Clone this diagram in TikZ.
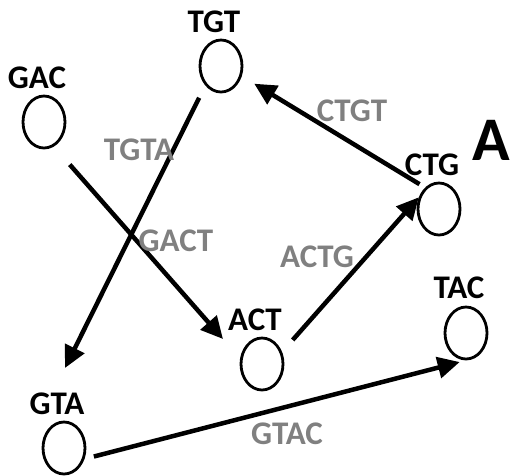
\documentclass[tikz,border=0pt]{standalone}
\usepackage{fontspec}
\setmainfont{Carlito}
\usetikzlibrary{arrows.meta}
\usetikzlibrary{positioning}
\usetikzlibrary{shapes.geometric}
\definecolor{lblgray}{RGB}{128,128,128}

\begin{document}
\begin{tikzpicture}[x=1pt, y=-1pt,                                            % pixel units, y runs down
	                    kmer/.style={draw, ellipse, line width=2.8pt, inner sep=0pt,
	                                 minimum width=42pt, minimum height=52pt},  % the k-mer circles
	                    kname/.style={inner sep=0pt, font=\fontsize{33}{38}\selectfont\bfseries},
	                    klbl/.style={kname, text=lblgray},                     % edge words
	                    arr/.style={-{Triangle[length=22pt,width=21pt]}, line width=4.5pt}]
	\useasboundingbox (0,0) rectangle (510,475);
	\node[kmer] (TGT) at (221,66) {};
	\node[kmer] (GAC) at (44,122) {};
	\node[kmer] (CTG) at (439,209) {};
	\node[kmer] (ACT) at (262,364) {};
	\node[kmer] (TAC) at (466,333) {};
	\node[kmer] (GTA) at (64,448) {};
	\node[kname] (tgt-name) [above=6pt of TGT, xshift=-7pt] {TGT};
	\node[kname] (gac-name) [above=6pt of GAC, xshift=-7pt] {GAC};
	\node[kname] (ctg-name) [above=6pt of CTG, xshift=-7pt] {CTG};
	\node[kname] (act-name) [above=6pt of ACT, xshift=-7pt] {ACT};
	\node[kname] (tac-name) [above=7pt of TAC, xshift=-7pt] {TAC};
	\node[kname] (gta-name) [above=6pt of GTA, xshift=-7pt] {GTA};
	\node[inner sep=0pt, font=\fontsize{62}{70}\selectfont\bfseries] (panel) at (491,140) {A};
	\coordinate (gta-in) at (65,368);
	\coordinate (act-in) at (223,339);
	\path[arr]
		(TGT.231) edge [shorten <=13.7pt] (gta-in)
		(GAC.292) edge [shorten <=24pt] (act-in)
		(ACT.31)  edge [shorten <=16pt] (CTG.150)
		(CTG.123) edge [shorten <=6.5pt, shorten >=14.5pt] (TGT.334)
		(GTA.332) edge [shorten <=9.6pt, shorten >=6.5pt] (TAC.270);
	\node[klbl] (ctgt) at (352,111) {CTGT};
	\node[klbl] (tgta) at (139,150) {TGTA};
	\node[klbl] (gact) at (176,241) {GACT};
	\node[klbl] (actg) at (317,257) {ACTG};
	\node[klbl] (gtac) at (287,434) {GTAC};
\end{tikzpicture}
\end{document}
